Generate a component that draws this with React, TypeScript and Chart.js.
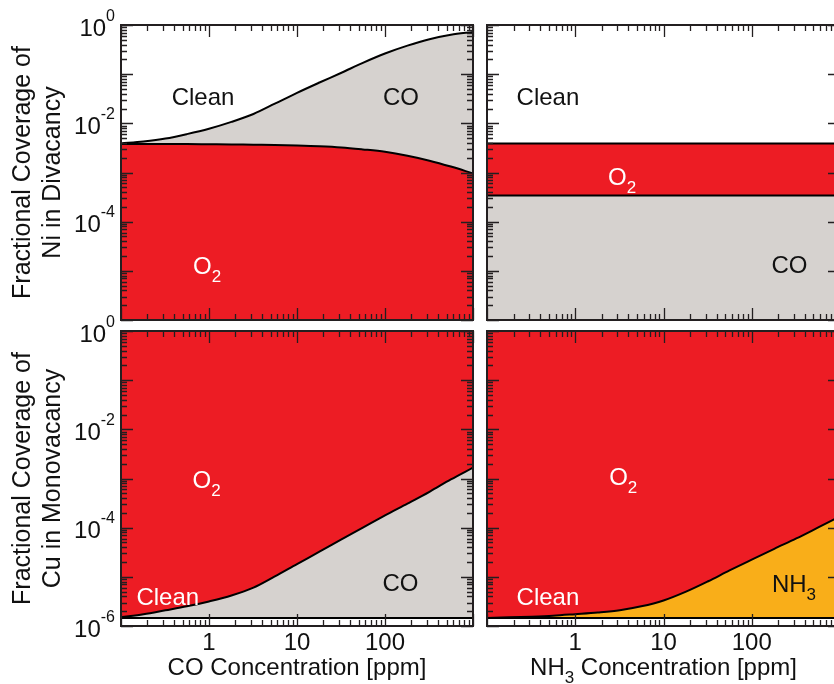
import React, { useEffect, useRef } from "react";
import { Chart, registerables } from "chart.js";
Chart.register(...registerables);

// ---------------- data ----------------
// gas concentration in ppm (quarter-decade grid)
const concentrations = [0.1, 0.18, 0.32, 0.56, 1, 1.8, 3.2, 5.6, 10, 18, 32, 56, 100, 180, 320, 560, 1000];

// Ni in divacancy, CO exposure (upper edge of each coloured band)
const niCoO2Edge = [3.8e-3, 3.8e-3, 3.8e-3, 3.8e-3, 3.76e-3, 3.72e-3, 3.67e-3, 3.63e-3, 3.55e-3, 3.43e-3, 3.24e-3, 2.95e-3, 2.63e-3, 2.19e-3, 1.74e-3, 1.32e-3, 9.55e-4];
const niCoCoEdge = [3.89e-3, 4.27e-3, 4.9e-3, 6.03e-3, 7.76e-3, 1.07e-2, 1.55e-2, 2.51e-2, 4.17e-2, 6.76e-2, 0.107, 0.17, 0.263, 0.38, 0.513, 0.631, 0.724];

// Ni in divacancy, NH3 exposure
const niNh3CoEdge = [3.4e-4, 3.4e-4, 3.4e-4, 3.4e-4, 3.4e-4, 3.4e-4, 3.4e-4, 3.4e-4, 3.4e-4, 3.4e-4, 3.4e-4, 3.4e-4, 3.4e-4, 3.4e-4, 3.4e-4, 3.4e-4, 3.4e-4];
const niNh3O2Edge = [3.9e-3, 3.9e-3, 3.9e-3, 3.9e-3, 3.9e-3, 3.9e-3, 3.9e-3, 3.9e-3, 3.9e-3, 3.9e-3, 3.9e-3, 3.9e-3, 3.9e-3, 3.9e-3, 3.9e-3, 3.9e-3, 3.9e-3];

// Cu in monovacancy, CO exposure
const cuCoCleanEdge = [1.45e-6, 1.45e-6, 1.45e-6, 1.45e-6, 1.45e-6, 1.45e-6, 1.45e-6, 1.45e-6, 1.45e-6, 1.45e-6, 1.45e-6, 1.45e-6, 1.45e-6, 1.45e-6, 1.45e-6, 1.45e-6, 1.45e-6];
const cuCoCoEdge = [1.51e-6, 1.74e-6, 2.09e-6, 2.51e-6, 3.16e-6, 4.17e-6, 6.03e-6, 1.02e-5, 1.82e-5, 3.24e-5, 5.75e-5, 1.0e-4, 1.78e-4, 3.09e-4, 5.37e-4, 9.55e-4, 1.66e-3];

// Cu in monovacancy, NH3 exposure
const cuNh3CleanEdge = [1.45e-6, 1.45e-6, 1.45e-6, 1.45e-6, 1.45e-6, 1.45e-6, 1.45e-6, 1.45e-6, 1.45e-6, 1.45e-6, 1.45e-6, 1.45e-6, 1.45e-6, 1.45e-6, 1.45e-6, 1.45e-6, 1.45e-6];
const cuNh3Nh3Edge = [1.46e-6, 1.5e-6, 1.55e-6, 1.62e-6, 1.74e-6, 1.88e-6, 2.09e-6, 2.51e-6, 3.31e-6, 5.01e-6, 8.13e-6, 1.35e-5, 2.24e-5, 3.72e-5, 6.03e-5, 1.0e-4, 1.7e-4];

const topYTickExponents = [0, -2, -4];
const bottomYTickExponents = [0, -2, -4, -6];
const xTickValues = [1, 10, 100];
const xTickLabels = ["1", "10", "100"];

// ---------------- styles ----------------
const RED = "#ED1C24";
const GRAY = "#D6D2CF";
const ORANGE = "#F9AE19";
const INK = "#231F20";
const FONT = '"Liberation Sans", Arial, Helvetica, sans-serif';

type Part = { text: string; size: number; dy: number };
const main = (t: string): Part => ({ text: t, size: 24, dy: 0 });
const sub = (t: string): Part => ({ text: t, size: 17, dy: 8 });

function pts(values: number[]) {
  return concentrations.map((c, i) => ({ x: c, y: values[i] }));
}

function edge(values: number[], fill: any, color: string, width = 2) {
  return {
    data: pts(values),
    fill,
    backgroundColor: color,
    borderColor: "#000",
    borderWidth: width,
    pointRadius: 0,
    cubicInterpolationMode: "monotone",
  };
}

function drawParts(ctx: CanvasRenderingContext2D, parts: Part[], x: number, baseline: number, align: "center" | "right" | "left", color: string) {
  ctx.save();
  ctx.fillStyle = color;
  ctx.textBaseline = "alphabetic";
  ctx.textAlign = "left";
  let total = 0;
  const widths = parts.map((p) => {
    ctx.font = `${p.size}px ${FONT}`;
    const w = ctx.measureText(p.text).width;
    total += w;
    return w;
  });
  let cx = align === "center" ? x - total / 2 : align === "right" ? x - total : x;
  parts.forEach((p, i) => {
    ctx.font = `${p.size}px ${FONT}`;
    ctx.fillText(p.text, cx, baseline + p.dy);
    cx += widths[i];
  });
  ctx.restore();
}

type Label = { parts: Part[]; x: number; y: number; color: string };

type Panel = {
  key: string;
  left: number;
  top: number;
  width: number;
  height: number;
  padding: { left: number; top: number; right: number; bottom: number };
  datasets: any[];
  labels: Label[];
  yTitle?: string[];
  yLabels: number[];
  xLabels: boolean;
  xTitle?: Part[];
};

const panels: Panel[] = [
  {
    key: "ni-co",
    left: 0, top: 0, width: 480, height: 340,
    padding: { left: 121, top: 25, right: 7, bottom: 20 },
    datasets: [edge(niCoO2Edge, "start", RED), edge(niCoCoEdge, "-1", GRAY)],
    labels: [
      { parts: [main("Clean")], x: 0.855, y: 0.036, color: "#111" },
      { parts: [main("CO")], x: 152, y: 0.036, color: "#111" },
      { parts: [main("O"), sub("2")], x: 0.95, y: 1.26e-5, color: "#fff" },
    ],
    yTitle: ["Fractional Coverage of", "Ni in Divacancy"],
    yLabels: topYTickExponents,
    xLabels: false,
  },
  {
    key: "ni-nh3",
    left: 480, top: 0, width: 360, height: 340,
    padding: { left: 7, top: 25, right: 0, bottom: 20 },
    datasets: [edge(niNh3CoEdge, "start", GRAY), edge(niNh3O2Edge, "-1", RED)],
    labels: [
      { parts: [main("Clean")], x: 0.49, y: 0.036, color: "#111" },
      { parts: [main("O"), sub("2")], x: 3.4, y: 8.5e-4, color: "#fff" },
      { parts: [main("CO")], x: 268, y: 1.32e-5, color: "#111" },
    ],
    yLabels: [],
    xLabels: false,
  },
  {
    key: "cu-co",
    left: 0, top: 300, width: 480, height: 384,
    padding: { left: 121, top: 31, right: 7, bottom: 58 },
    datasets: [edge(cuCoCleanEdge, "+1", GRAY), edge(cuCoCoEdge, "end", RED)],
    labels: [
      { parts: [main("O"), sub("2")], x: 0.94, y: 9.8e-4, color: "#fff" },
      { parts: [main("Clean")], x: 0.34, y: 3.95e-6, color: "#fff" },
      { parts: [main("CO")], x: 150, y: 7.7e-6, color: "#111" },
    ],
    yTitle: ["Fractional Coverage of", "Cu in Monovacancy"],
    yLabels: bottomYTickExponents,
    xLabels: true,
    xTitle: [main("CO Concentration [ppm]")],
  },
  {
    key: "cu-nh3",
    left: 480, top: 300, width: 360, height: 384,
    padding: { left: 7, top: 31, right: 0, bottom: 58 },
    datasets: [edge(cuNh3CleanEdge, "+1", ORANGE), edge(cuNh3Nh3Edge, "end", RED)],
    labels: [
      { parts: [main("O"), sub("2")], x: 3.5, y: 1.12e-3, color: "#fff" },
      { parts: [main("Clean")], x: 0.49, y: 4.0e-6, color: "#fff" },
      { parts: [main("NH"), sub("3")], x: 301, y: 7.5e-6, color: "#111" },
    ],
    yLabels: [],
    xLabels: true,
    xTitle: [main("NH"), sub("3"), main(" Concentration [ppm]")],
  },
];

function decorPlugin(panel: Panel) {
  return {
    id: "decor-" + panel.key,
    afterDraw(chart: any) {
      const ctx: CanvasRenderingContext2D = chart.ctx;
      const area = chart.chartArea;
      const xs = chart.scales.x;
      const ys = chart.scales.y;
      ctx.save();
      ctx.strokeStyle = INK;
      ctx.lineWidth = 1.3;
      ctx.beginPath();
      // x ticks (top & bottom, inward)
      for (let d = -1; d <= 3; d++) {
        for (let m = 1; m <= 9; m++) {
          const v = m * Math.pow(10, d);
          if (v < 0.1 || v > 1000) continue;
          const px = Math.round(xs.getPixelForValue(v)) + 0.5;
          const len = m === 1 ? 12 : 6;
          ctx.moveTo(px, area.top);
          ctx.lineTo(px, area.top + len);
          ctx.moveTo(px, area.bottom);
          ctx.lineTo(px, area.bottom - len);
        }
      }
      // y ticks (left & right, inward)
      for (let d = -6; d <= 0; d++) {
        for (let m = 1; m <= 9; m++) {
          const v = m * Math.pow(10, d);
          if (v < 1e-6 || v > 1) continue;
          const py = Math.round(ys.getPixelForValue(v)) + 0.5;
          const len = m === 1 ? 12 : 6;
          ctx.moveTo(area.left, py);
          ctx.lineTo(area.left + len, py);
          ctx.moveTo(area.right, py);
          ctx.lineTo(area.right - len, py);
        }
      }
      ctx.stroke();
      // frame
      ctx.lineWidth = 2;
      ctx.strokeRect(area.left, area.top, area.right - area.left, area.bottom - area.top);
      ctx.restore();

      // region labels
      panel.labels.forEach((l) => {
        const px = xs.getPixelForValue(l.x);
        const py = ys.getPixelForValue(l.y);
        drawParts(ctx, l.parts, px, py + 0.358 * 24, "center", l.color);
      });

      // y tick labels
      panel.yLabels.forEach((e) => {
        const py = ys.getPixelForValue(Math.pow(10, e));
        const base = py + 0.358 * 24 + 2;
        drawParts(
          ctx,
          [
            { text: "10", size: 24, dy: 0 },
            { text: e === 0 ? "0" : "-" + Math.abs(e), size: 16, dy: -15 },
          ],
          area.left - 6,
          base,
          "right",
          "#111"
        );
      });

      // x tick labels
      if (panel.xLabels) {
        xTickValues.forEach((v, i) => {
          const px = xs.getPixelForValue(v);
          drawParts(ctx, [main(xTickLabels[i])], px, area.bottom + 24, "center", "#111");
        });
      }

      if (panel.xTitle) {
        drawParts(ctx, panel.xTitle, (area.left + area.right) / 2, area.bottom + 49, "center", "#111");
      }

      if (panel.yTitle) {
        const cy = (area.top + area.bottom) / 2;
        const baselines = [30, 60];
        panel.yTitle.forEach((t, i) => {
          ctx.save();
          ctx.translate(baselines[i], cy);
          ctx.rotate(-Math.PI / 2);
          ctx.font = `25px ${FONT}`;
          ctx.fillStyle = "#111";
          ctx.textAlign = "center";
          ctx.textBaseline = "alphabetic";
          ctx.fillText(t, 0, 0);
          ctx.restore();
        });
      }
    },
  };
}

function PanelChart({ panel }: { panel: Panel }) {
  const ref = useRef<HTMLCanvasElement | null>(null);
  useEffect(() => {
    if (!ref.current) return;
    const chart = new Chart(ref.current, {
      type: "line",
      data: { datasets: panel.datasets },
      options: {
        responsive: false,
        animation: false,
        devicePixelRatio: 1,
        layout: { padding: panel.padding },
        plugins: {
          legend: { display: false },
          tooltip: { enabled: false },
          filler: { drawTime: "beforeDatasetsDraw" },
        },
        scales: {
          x: { type: "logarithmic", min: 0.1, max: 1000, display: false },
          y: { type: "logarithmic", min: 1e-6, max: 1, display: false },
        },
      } as any,
      plugins: [decorPlugin(panel)],
    });
    return () => chart.destroy();
  }, [panel]);
  return (
    <canvas
      ref={ref}
      width={panel.width}
      height={panel.height}
      style={{ position: "absolute", left: panel.left, top: panel.top, width: panel.width, height: panel.height }}
    />
  );
}

export default function App() {
  return (
    <div
      style={{
        position: "fixed",
        left: 0,
        top: 0,
        width: 834,
        height: 684,
        overflow: "hidden",
        background: "#fff",
      }}
    >
      {panels.map((p) => (
        <PanelChart key={p.key} panel={p} />
      ))}
    </div>
  );
}
